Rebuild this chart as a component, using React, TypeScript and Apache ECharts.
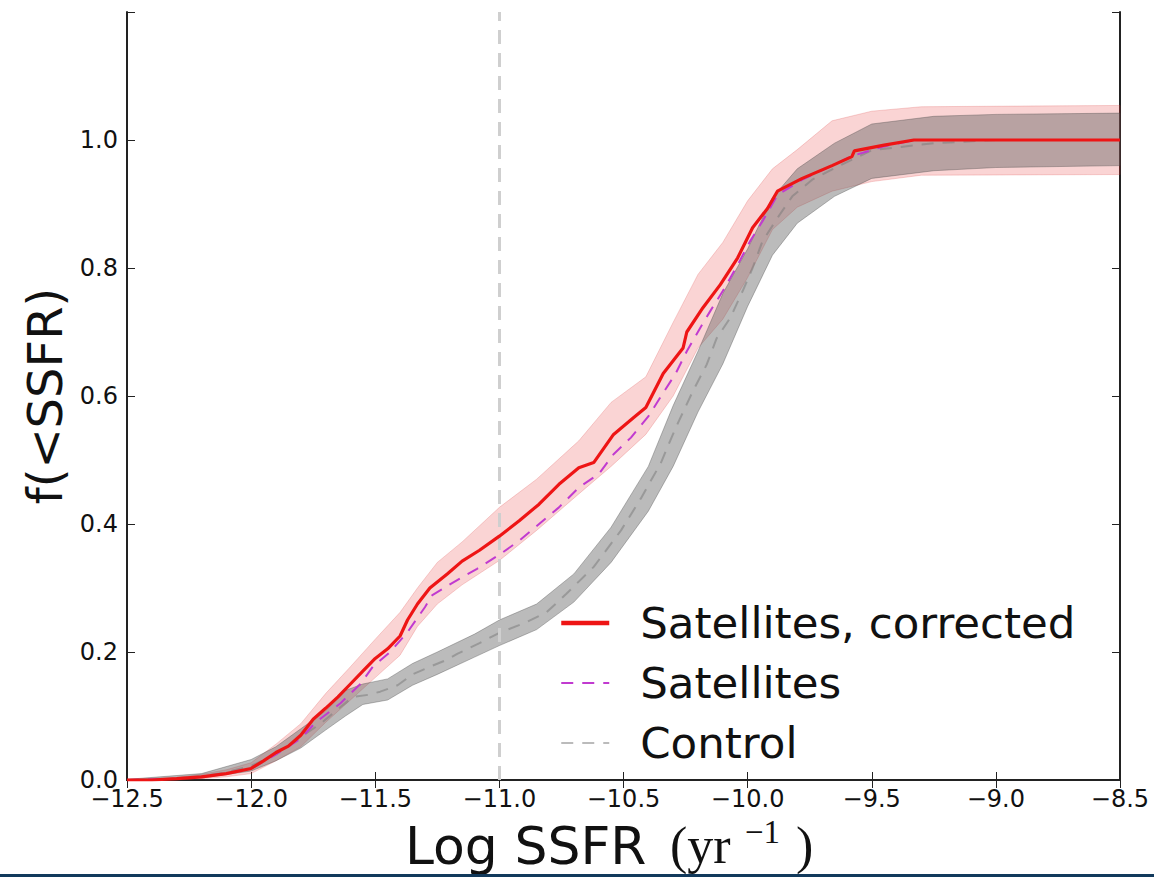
import React, { useEffect, useRef } from "react";
import * as echarts from "echarts";

// ---- data ----
const cutoffLogSSFR = -11.0;

const corrX = [-12.5, -12.4, -12.3, -12.2, -12.1, -12.0, -11.95, -11.9, -11.85, -11.8, -11.75, -11.7, -11.65, -11.6, -11.55, -11.5, -11.45, -11.4, -11.37, -11.33, -11.28, -11.21, -11.15, -11.08, -11.0, -10.92, -10.84, -10.76, -10.68, -10.62, -10.54, -10.46, -10.41, -10.34, -10.26, -10.245, -10.18, -10.11, -10.04, -9.98, -9.92, -9.88, -9.78, -9.66, -9.58, -9.57, -9.45, -9.33, -8.5];
const corrY = [0, 0, 0.002, 0.005, 0.01, 0.018, 0.03, 0.043, 0.053, 0.07, 0.095, 0.112, 0.13, 0.15, 0.17, 0.19, 0.205, 0.225, 0.25, 0.275, 0.3, 0.322, 0.342, 0.359, 0.381, 0.405, 0.431, 0.462, 0.488, 0.496, 0.54, 0.566, 0.582, 0.635, 0.675, 0.7, 0.738, 0.774, 0.816, 0.863, 0.893, 0.92, 0.94, 0.96, 0.974, 0.983, 0.992, 1.0, 1.0];

const corrBandX = [-12.5, -12.3, -12.2, -12.1, -12.0, -11.9, -11.8, -11.7, -11.6, -11.5, -11.4, -11.33, -11.25, -11.15, -11.0, -10.85, -10.68, -10.55, -10.41, -10.3, -10.2, -10.1, -10.0, -9.9, -9.8, -9.66, -9.5, -9.3, -8.5];
const corrBandLo = [0, 0, 0.002, 0.005, 0.01, 0.03, 0.052, 0.09, 0.125, 0.16, 0.195, 0.24, 0.275, 0.305, 0.343, 0.39, 0.447, 0.49, 0.54, 0.6, 0.675, 0.72, 0.785, 0.86, 0.895, 0.92, 0.935, 0.945, 0.946];
const corrBandHi = [0.001, 0.004, 0.009, 0.016, 0.027, 0.056, 0.088, 0.135, 0.177, 0.22, 0.262, 0.3, 0.34, 0.372, 0.426, 0.47, 0.53, 0.59, 0.63, 0.715, 0.79, 0.84, 0.905, 0.955, 0.985, 1.03, 1.045, 1.052, 1.054];

const satX = [-12.5, -12.3, -12.2, -12.1, -12.0, -11.9, -11.8, -11.74, -11.64, -11.56, -11.51, -11.44, -11.37, -11.3, -11.27, -11.15, -11.09, -11.0, -10.92, -10.84, -10.76, -10.68, -10.6, -10.54, -10.47, -10.4, -10.34, -10.29, -10.245, -10.19, -10.15, -10.1, -10.04, -9.99, -9.94, -9.88, -9.78, -9.66, -9.58, -9.45, -9.33, -8.5];
const satY = [0, 0.002, 0.005, 0.01, 0.018, 0.04, 0.065, 0.09, 0.12, 0.15, 0.177, 0.2, 0.231, 0.27, 0.289, 0.317, 0.33, 0.352, 0.374, 0.4, 0.426, 0.457, 0.478, 0.509, 0.535, 0.568, 0.605, 0.635, 0.67, 0.707, 0.733, 0.764, 0.805, 0.842, 0.873, 0.914, 0.938, 0.96, 0.975, 0.99, 1.0, 1.0];

const ctrlX = [-12.5, -12.3, -12.2, -12.1, -12.0, -11.9, -11.82, -11.72, -11.64, -11.59, -11.53, -11.48, -11.41, -11.35, -11.28, -11.21, -11.17, -11.08, -11.0, -10.9, -10.81, -10.73, -10.62, -10.51, -10.43, -10.35, -10.29, -10.22, -10.165, -10.125, -10.07, -10.02, -9.98, -9.94, -9.88, -9.82, -9.74, -9.64, -9.5, -9.25, -9.0, -8.5];
const ctrlY = [0, 0.002, 0.006, 0.012, 0.022, 0.04, 0.062, 0.088, 0.114, 0.13, 0.133, 0.138, 0.148, 0.165, 0.177, 0.188, 0.197, 0.214, 0.23, 0.245, 0.262, 0.291, 0.333, 0.39, 0.44, 0.495, 0.55, 0.608, 0.649, 0.69, 0.722, 0.764, 0.8, 0.842, 0.878, 0.912, 0.938, 0.958, 0.984, 0.995, 1.0, 1.0];

const ctrlBandX = [-12.5, -12.2, -12.0, -11.9, -11.8, -11.7, -11.62, -11.55, -11.45, -11.35, -11.25, -11.1, -11.0, -10.85, -10.7, -10.55, -10.4, -10.3, -10.2, -10.1, -10.0, -9.9, -9.8, -9.65, -9.5, -9.25, -9.0, -8.5];
const ctrlBandLo = [0, 0.003, 0.014, 0.03, 0.05, 0.078, 0.1, 0.118, 0.125, 0.148, 0.165, 0.192, 0.21, 0.235, 0.278, 0.34, 0.42, 0.49, 0.575, 0.65, 0.74, 0.82, 0.87, 0.912, 0.94, 0.952, 0.957, 0.96];
const ctrlBandHi = [0.001, 0.01, 0.032, 0.052, 0.08, 0.108, 0.14, 0.15, 0.158, 0.182, 0.2, 0.228, 0.25, 0.275, 0.322, 0.395, 0.49, 0.585, 0.67, 0.76, 0.83, 0.91, 0.955, 0.995, 1.025, 1.037, 1.04, 1.042];

const legendNames = ["Satellites, corrected", "Satellites", "Control"];
const xTitleParts = ["Log SSFR", "(yr", "\u22121", ")"];
const yTitle = "f(<SSFR)";

// ---- helpers ----
const zip = (xs: number[], ys: number[]) => {
  const n = Math.min(xs.length, ys.length);
  const out: number[][] = [];
  for (let i = 0; i < n; i++) out.push([xs[i], ys[i]]);
  return out;
};

const bandSeries = (name: string, xs: number[], lo: number[], hi: number[], fill: string, stroke: string, z: number) => {
  const n = Math.min(xs.length, lo.length, hi.length);
  const rows: number[][] = [];
  for (let i = 0; i < n; i++) rows.push([xs[i], lo[i], hi[i]]);
  return {
    name,
    type: "custom",
    silent: true,
    z,
    data: rows,
    encode: { x: 0, y: [1, 2] },
    renderItem: (params: any, api: any) => {
      if (params.dataIndex !== 0) return null;
      const upper = rows.map((r) => api.coord([r[0], r[2]]));
      const lower = rows.map((r) => api.coord([r[0], r[1]])).reverse();
      return {
        type: "polygon",
        shape: { points: upper.concat(lower) },
        style: { fill, stroke, lineWidth: 1 },
      };
    },
  };
};

const FONT = "DejaVu Sans";
const SERIF = "Liberation Serif";

export default function App() {
  const ref = useRef<HTMLDivElement>(null);

  useEffect(() => {
    document.body.style.margin = "0";
    if (!ref.current) return;
    const chart = echarts.init(ref.current, undefined, { renderer: "svg" });

    const fmtX = (v: number) => (v < 0 ? "\u2212" : "") + Math.abs(v).toFixed(1);
    const fmtY = (v: number) => (v > 1.1 ? "" : v.toFixed(1));

    const axisLine = { show: true, lineStyle: { color: "#222", width: 2 } };
    const tick = { show: true, inside: true, length: 8, lineStyle: { color: "#222", width: 1 } };

    chart.setOption({
      animation: false,
      backgroundColor: "#ffffff",
      grid: { left: 127, top: 12, width: 993, height: 768, containLabel: false },
      xAxis: [
        {
          type: "value",
          min: -12.5,
          max: -8.5,
          interval: 0.5,
          position: "bottom",
          axisLine,
          axisTick: tick,
          splitLine: { show: false },
          axisLabel: { formatter: fmtX, fontSize: 24, fontFamily: FONT, color: "#111", margin: 7 },
        },
        {
          type: "value",
          min: -12.5,
          max: -8.5,
          interval: 0.5,
          position: "top",
          axisLine,
          axisTick: tick,
          splitLine: { show: false },
          axisLabel: { show: false },
        },
      ],
      yAxis: [
        {
          type: "value",
          min: 0,
          max: 1.2,
          interval: 0.2,
          position: "left",
          axisLine,
          axisTick: tick,
          splitLine: { show: false },
          axisLabel: { formatter: fmtY, fontSize: 24, fontFamily: FONT, color: "#111", margin: 9 },
          name: yTitle,
          nameLocation: "middle",
          nameRotate: 90,
          nameGap: 58,
          nameTextStyle: { fontSize: 48, fontFamily: FONT, color: "#111" },
        },
        {
          type: "value",
          min: 0,
          max: 1.2,
          interval: 0.2,
          position: "right",
          axisLine,
          axisTick: tick,
          splitLine: { show: false },
          axisLabel: { show: false },
        },
      ],
      legend: {
        data: [
          { name: legendNames[0], lineStyle: { width: 4.5 } },
          { name: legendNames[1] },
          { name: legendNames[2] },
        ],
        orient: "vertical",
        left: 559,
        top: 599,
        padding: 0,
        itemWidth: 48,
        itemHeight: 14,
        itemGap: 12,
        selectedMode: false,
        itemStyle: { opacity: 0, borderWidth: 0 },
        textStyle: { fontSize: 43.5, fontFamily: FONT, color: "#111", lineHeight: 48, padding: [0, 0, 0, 26] },
      },
      series: [
        bandSeries("_corrBand", corrBandX, corrBandLo, corrBandHi, "rgba(230,40,40,0.2)", "rgba(220,60,60,0.22)", 1),
        bandSeries("_ctrlBand", ctrlBandX, ctrlBandLo, ctrlBandHi, "rgba(90,90,90,0.41)", "rgba(70,70,70,0.35)", 2),
        {
          name: "Control",
          type: "line",
          symbol: "none",
          data: zip(ctrlX, ctrlY),
          lineStyle: { color: "rgba(120,120,120,0.5)", width: 2, type: [12, 9] },
          itemStyle: { color: "rgba(120,120,120,0.5)" },
          markLine: {
            silent: true,
            symbol: "none",
            label: { show: false },
            lineStyle: { color: "#cfcfcf", width: 3, type: [14, 9] },
            data: [{ xAxis: cutoffLogSSFR }],
          },
          z: 3,
        },
        {
          name: "Satellites",
          type: "line",
          symbol: "none",
          data: zip(satX, satY),
          lineStyle: { color: "#c13ad0", width: 2, type: [12, 9] },
          itemStyle: { color: "#c13ad0" },
          z: 4,
        },
        {
          name: "Satellites, corrected",
          type: "line",
          symbol: "none",
          data: zip(corrX, corrY),
          lineStyle: { color: "#ee1515", width: 3.2 },
          itemStyle: { color: "#ee1515" },
          z: 5,
        },
      ],
      graphic: [
        {
          type: "text",
          x: 405,
          y: 820,
          z: 50,
          style: { text: xTitleParts[0], fontSize: 52, fontFamily: FONT, fill: "#111", verticalAlign: "top" },
        },
        {
          type: "text",
          x: 670,
          y: 819,
          z: 50,
          style: { text: xTitleParts[1], fontSize: 52, fontFamily: SERIF, fill: "#111", verticalAlign: "top" },
        },
        {
          type: "text",
          x: 745,
          y: 815,
          z: 50,
          style: { text: xTitleParts[2], fontSize: 33, fontFamily: SERIF, fill: "#111", verticalAlign: "top" },
        },
        {
          type: "text",
          x: 796,
          y: 819,
          z: 50,
          style: { text: xTitleParts[3], fontSize: 52, fontFamily: SERIF, fill: "#111", verticalAlign: "top" },
        },
        {
          type: "rect",
          left: 0,
          top: 874,
          z: 100,
          shape: { width: 1154, height: 3 },
          style: { fill: "#123a5c" },
        },
      ],
    });

    return () => chart.dispose();
  }, []);

  return <div ref={ref} style={{ width: 1154, height: 877 }} />;
}
